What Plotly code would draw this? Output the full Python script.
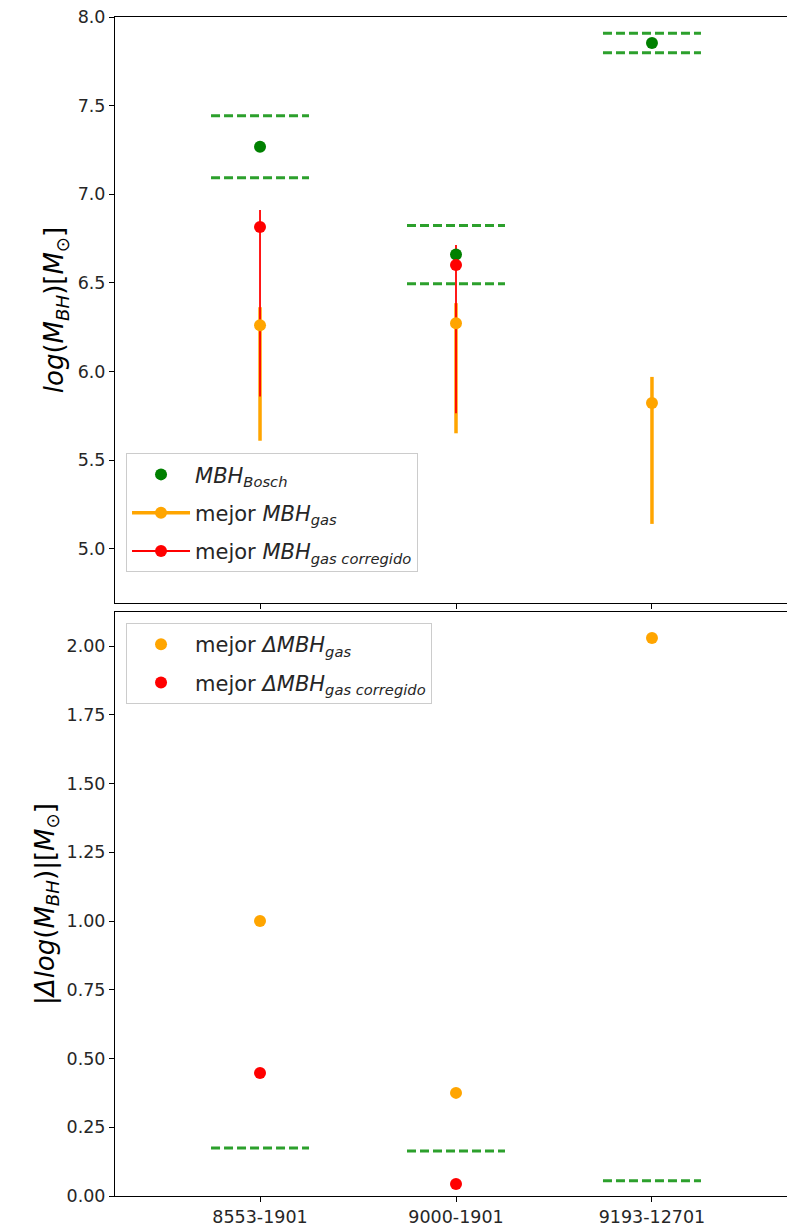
import plotly.graph_objects as go

# Galaxias y masas del agujero negro (log M_BH)
galaxias = ["8553-1901", "9000-1901", "9193-12701"]
xpos = [0, 1, 2]

mbh_bosch = [7.268, 6.660, 7.853]
err_bosch = [0.175, 0.164, 0.055]

mbh_gas = [6.262, 6.273, 5.823]
err_gas_up = [0.101, 0.113, 0.147]
err_gas_down = [0.652, 0.621, 0.682]

mbh_corr = [6.816, 6.601, None]
err_corr_up = [0.096, 0.113, None]
err_corr_down = [0.957, 0.836, None]

# |Delta log M_BH| respecto a Bosch
delta_gas = [1.000, 0.375, 2.029]
delta_corr = [0.447, 0.044, None]

ORANGE = "#FFA500"
RED = "#FF0000"
GREEN = "#008000"
DASH_GREEN = "#2ca02c"
FONT = "DejaVu Sans"
MS = 12


def hsegments(centers, values):
    xs, ys = [], []
    for c, v in zip(centers, values):
        if v is None:
            continue
        xs += [c - 0.25, c + 0.25, None]
        ys += [v, v, None]
    return xs, ys


fig = go.Figure()

# --- Panel superior -------------------------------------------------------
# Bandas de incertidumbre de Bosch (líneas discontinuas)
up = [m + e for m, e in zip(mbh_bosch, err_bosch)]
lo = [m - e for m, e in zip(mbh_bosch, err_bosch)]
for band in (up, lo):
    bx, by = hsegments(xpos, band)
    fig.add_trace(go.Scatter(x=bx, y=by, mode="lines", showlegend=False,
                             line=dict(color=DASH_GREEN, width=3, dash="9px,4px"),
                             xaxis="x", yaxis="y", hoverinfo="skip"))

# Barras de error (debajo de todos los marcadores)
fig.add_trace(go.Scatter(
    x=xpos, y=mbh_gas, mode="markers", showlegend=False,
    marker=dict(size=1, color="rgba(0,0,0,0)"),
    error_y=dict(type="data", symmetric=False, array=err_gas_up,
                 arrayminus=err_gas_down, color=ORANGE, thickness=3.5, width=0),
    xaxis="x", yaxis="y"))
fig.add_trace(go.Scatter(
    x=xpos[:2], y=mbh_corr[:2], mode="markers", showlegend=False,
    marker=dict(size=1, color="rgba(0,0,0,0)"),
    error_y=dict(type="data", symmetric=False, array=err_corr_up[:2],
                 arrayminus=err_corr_down[:2], color=RED, thickness=1.8, width=0),
    xaxis="x", yaxis="y"))

# Marcadores
fig.add_trace(go.Scatter(x=xpos, y=mbh_bosch, mode="markers", showlegend=False,
                         marker=dict(size=MS, color=GREEN), xaxis="x", yaxis="y"))
fig.add_trace(go.Scatter(x=xpos, y=mbh_gas, mode="markers", showlegend=False,
                         marker=dict(size=MS, color=ORANGE), xaxis="x", yaxis="y"))
fig.add_trace(go.Scatter(x=xpos, y=mbh_corr, mode="markers", showlegend=False,
                         marker=dict(size=MS, color=RED), xaxis="x", yaxis="y"))

# Entradas de leyenda del panel superior
fig.add_trace(go.Scatter(x=[None], y=[None], mode="markers", legend="legend",
                         legendgroup="a", name="<i>MBH<sub>Bosch</sub></i>",
                         marker=dict(size=MS, color=GREEN), xaxis="x", yaxis="y"))
fig.add_trace(go.Scatter(x=[None], y=[None], mode="lines+markers", legend="legend",
                         legendgroup="b", name="mejor <i>MBH<sub>gas</sub></i>",
                         line=dict(color=ORANGE, width=3.5),
                         marker=dict(size=MS, color=ORANGE), xaxis="x", yaxis="y"))
fig.add_trace(go.Scatter(x=[None], y=[None], mode="lines+markers", legend="legend",
                         legendgroup="c",
                         name="mejor <i>MBH<sub>gas corregido</sub></i>",
                         line=dict(color=RED, width=1.8),
                         marker=dict(size=MS, color=RED), xaxis="x", yaxis="y"))

# --- Panel inferior -------------------------------------------------------
bx, by = hsegments(xpos, err_bosch)
fig.add_trace(go.Scatter(x=bx, y=by, mode="lines", showlegend=False,
                         line=dict(color=DASH_GREEN, width=3, dash="9px,4px"),
                         xaxis="x2", yaxis="y2", hoverinfo="skip"))
fig.add_trace(go.Scatter(x=xpos, y=delta_gas, mode="markers", legend="legend2",
                         legendgroup="d", name="mejor <i>ΔMBH<sub>gas</sub></i>",
                         marker=dict(size=MS, color=ORANGE), xaxis="x2", yaxis="y2"))
fig.add_trace(go.Scatter(x=xpos, y=delta_corr, mode="markers", legend="legend2",
                         legendgroup="e",
                         name="mejor <i>ΔMBH<sub>gas corregido</sub></i>",
                         marker=dict(size=MS, color=RED), xaxis="x2", yaxis="y2"))

axis_common = dict(showline=True, linecolor="black", linewidth=1, ticks="outside",
                   ticklen=5, tickcolor="black", showgrid=False, zeroline=False,
                   tickfont=dict(family=FONT, size=17.5, color="#262626"))

legend_common = dict(xanchor="left", yanchor="top", xref="paper", yref="paper",
                     bgcolor="rgba(255,255,255,0.8)", bordercolor="#cccccc",
                     borderwidth=1, font=dict(family=FONT, size=21, color="#262626"),
                     traceorder="grouped", tracegroupgap=8, itemwidth=58)

XR = [-0.740, 2.689]
fig.update_layout(
    width=787, height=1230,
    margin=dict(l=115, r=0, t=17, b=34),
    paper_bgcolor="white", plot_bgcolor="white",
    font=dict(family=FONT, color="#262626"),
    xaxis=dict(domain=[0, 1], anchor="y", range=XR, tickvals=xpos,
               showticklabels=False, mirror=True, **axis_common),
    yaxis=dict(domain=[0.503, 1], anchor="x", range=[4.695, 8.0],
               tickvals=[5.0, 5.5, 6.0, 6.5, 7.0, 7.5, 8.0],
               ticktext=["5.0", "5.5", "6.0", "6.5", "7.0", "7.5", "8.0"],
               title=dict(text="<i>log</i>(<i>M<sub>BH</sub></i>)[<i>M</i><sub>⊙</sub>]",
                          font=dict(family=FONT, size=26, color="black"),
                          standoff=6),
               **axis_common),
    xaxis2=dict(domain=[0, 1], anchor="y2", range=XR, tickvals=xpos,
                ticktext=galaxias, mirror=True, **axis_common),
    yaxis2=dict(domain=[0, 0.4953], anchor="x2", range=[0, 2.1236],
                tickvals=[0, 0.25, 0.5, 0.75, 1.0, 1.25, 1.5, 1.75, 2.0],
                ticktext=["0.00", "0.25", "0.50", "0.75", "1.00", "1.25",
                          "1.50", "1.75", "2.00"],
                title=dict(text="|<i>Δlog</i>(<i>M<sub>BH</sub></i>)|[<i>M</i><sub>⊙</sub>]",
                           font=dict(family=FONT, size=26, color="black"),
                           standoff=4),
                **axis_common),
    legend=dict(x=0.0164, y=0.630, **legend_common),
    legend2=dict(x=0.0164, y=0.486, **legend_common),
)

fig.write_html("out.html")
